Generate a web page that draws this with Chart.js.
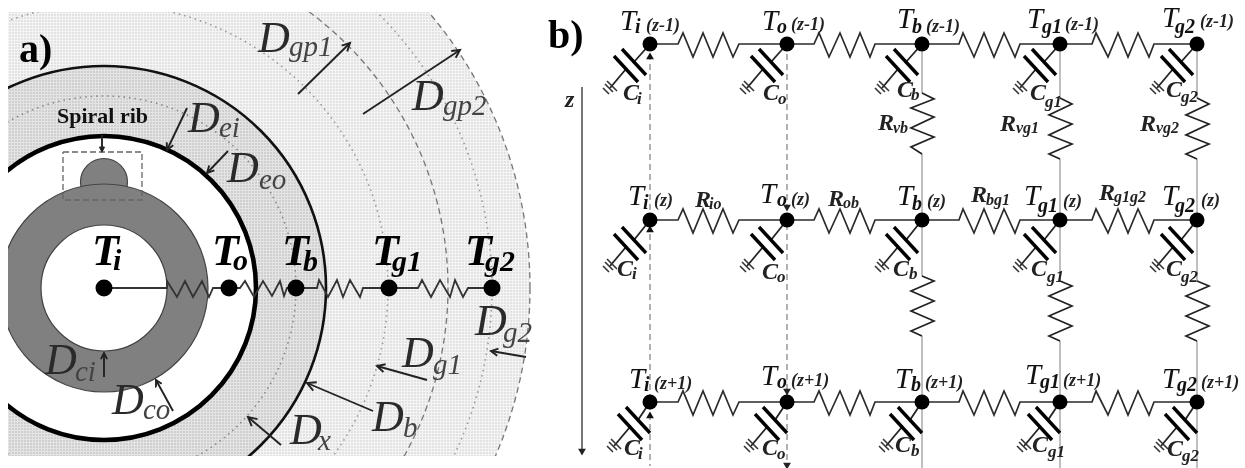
<!DOCTYPE html>
<html>
<head>
<meta charset="utf-8">
<style>html,body{margin:0;padding:0;background:#fff}canvas{display:block;filter:blur(0.5px)}</style>
<script src="https://cdn.jsdelivr.net/npm/chart.js@4"></script>
</head>
<body>
<canvas id="c" width="1245" height="468"></canvas>
<script>
// ---------- panel a) values ----------
const centre = [104, 288];
const radii = { gp2: 426, g2: 388, gp1: 344, g1: 284, b: 222, x: 192, eo: 152, co: 104, ci: 63 };
const ribDome = [104, 182, 23.5];
const nodesA = [[104, 288], [229, 288], [296, 288], [389, 288], [492, 288]];
const wireA = [[104, 288], [167, 288], [167, 281], [177, 297], [185, 281], [193, 297], [202, 281], [209, 297], [213, 288],
  [240, 288], [245, 281], [254, 297], [263, 281], [272, 296], [280, 281], [284, 296], [287, 288],
  [317, 288], [319, 280], [328, 297], [337, 280], [343, 297], [350, 280], [360, 297], [363, 288],
  [418, 288], [422, 280], [431, 297], [440, 280], [450, 297], [455, 280], [463, 297], [468, 288], [492, 288]];
const ribBox = [[63, 152], [142, 152], [142, 200], [63, 200], [63, 152]];
const arrowsA = [
  [102, 135, 102, 151, 5], [187, 108, 167, 150, 8], [228, 151, 207, 173, 8], [298, 94, 350, 43, 9],
  [363, 114, 460, 50, 9], [104, 377, 104, 353, 7], [173, 411, 156, 380, 7], [281, 445, 248, 417, 10],
  [373, 411, 307, 383, 10], [427, 380, 377, 366, 9], [526, 357, 491, 351, 8]
];
const dLabelsA = [['D', 258, 52], ['D', 412, 110], ['D', 188, 132], ['D', 227, 182], ['D', 45, 374], ['D', 112, 414],
  ['D', 402, 367], ['D', 475, 335], ['D', 372, 431], ['D', 290, 444]];
const dSubsA = [['gp1', 289, 56], ['gp2', 443, 115], ['ei', 219, 137], ['eo', 259, 189], ['ci', 75, 381], ['co', 143, 419],
  ['g1', 433, 374], ['g2', 503, 342], ['b', 403, 437], ['x', 318, 450]];
const tLabelsA = [['T', 92, 265], ['T', 212, 265], ['T', 282, 265], ['T', 372, 265], ['T', 465, 265]];
const tSubsA = [['i', 113, 270], ['o', 233, 270], ['b', 303, 271], ['g1', 392, 271], ['g2', 485, 271]];

// ---------- panel b) values ----------
const columns = [650, 787, 922, 1060, 1197];
const rows = [44, 220, 402];
const hZigX = [
  [678, 683, 693, 703, 713, 723, 733, 739],
  [814, 819, 829, 840, 850, 860, 870, 875],
  [959, 963, 974, 984, 994, 1004, 1015, 1020],
  [1092, 1096, 1108, 1118, 1128, 1138, 1149, 1154]
];
const hZigDy = [0, -11, 13, -11, 13, -11, 13, 0];
const vZigDx = [0, 12, -11, 12, -11, 12, -11, 0];
const vZigY = {
  '2,0': [93, 99, 108, 117, 128, 137, 147, 154],
  '3,0': [98, 104, 115, 124, 135, 144, 154, 159],
  '4,0': [98, 104, 115, 124, 135, 144, 154, 159],
  '2,1': [276, 281, 291, 301, 311, 321, 331, 336],
  '3,1': [281, 286, 296, 306, 316, 326, 336, 341],
  '4,1': [281, 286, 296, 306, 316, 326, 336, 341]
};
const capPlateA = [[-28, 5], [-4, 31]];
const capPlateB = [[-36, 12], [-12, 38]];
const capLeadA = [[0, 0], [-16, 18]];
const capLeadB = [[-24, 25], [-40, 44]];
const capGround = [[[-43, 37], [-33, 47]], [[-45, 40], [-37, 48]], [[-47, 44], [-41, 50]]];
const capShiftX = [0, 0, 4];
const capShiftY = [0, 2, 0];
const upMarks = [[650, 57], [650, 230], [650, 416]];
const downMarks = [[787, 207], [787, 391], [787, 465], [582, 451]];
const zAxisLine = [[582, 87], [582, 451]];

const tLabelsB = [
  ['T', 620, 30], ['T', 762, 30], ['T', 897, 28], ['T', 1027, 28], ['T', 1162, 27],
  ['T', 628, 205], ['T', 760, 203], ['T', 897, 205], ['T', 1024, 205], ['T', 1162, 205],
  ['T', 629, 388], ['T', 761, 385], ['T', 895, 388], ['T', 1025, 384], ['T', 1162, 388]
];
const tSubsB = [
  ['i', 635, 33], ['o', 777, 33], ['b', 912, 33], ['g1', 1042, 33], ['g2', 1175, 33],
  ['i', 643, 209], ['o', 777, 206], ['b', 912, 210], ['g1', 1038, 212], ['g2', 1175, 212],
  ['i', 644, 391], ['o', 777, 388], ['b', 911, 391], ['g1', 1040, 388], ['g2', 1177, 391]
];
const zTags = [
  ['(z-1)', 646, 31], ['(z-1)', 791, 30], ['(z-1)', 926, 32], ['(z-1)', 1065, 30], ['(z-1)', 1200, 27],
  ['(z)', 654, 206], ['(z)', 791, 205], ['(z)', 927, 207], ['(z)', 1063, 207], ['(z)', 1201, 206],
  ['(z+1)', 654, 389], ['(z+1)', 791, 386], ['(z+1)', 925, 388], ['(z+1)', 1063, 386], ['(z+1)', 1201, 388]
];
const cLabels = [
  ['C', 623, 100], ['C', 763, 100], ['C', 897, 97], ['C', 1030, 100], ['C', 1166, 97],
  ['C', 617, 276], ['C', 762, 279], ['C', 893, 276], ['C', 1031, 276], ['C', 1166, 276],
  ['C', 624, 455], ['C', 762, 455], ['C', 895, 452], ['C', 1032, 452], ['C', 1167, 456]
];
const cSubs = [
  ['i', 637, 104], ['o', 778, 104], ['b', 911, 100], ['g1', 1045, 107], ['g2', 1181, 102],
  ['i', 632, 279], ['o', 777, 282], ['b', 909, 279], ['g1', 1047, 282], ['g2', 1181, 282],
  ['i', 638, 459], ['o', 777, 459], ['b', 911, 456], ['g1', 1048, 457], ['g2', 1182, 461]
];
const rLabels = [['R', 695, 207], ['R', 828, 206], ['R', 971, 202], ['R', 1099, 200], ['R', 878, 130], ['R', 1000, 131], ['R', 1140, 131]];
const rSubs = [['io', 709, 209], ['ob', 843, 208], ['bg1', 986, 205], ['g1g2', 1114, 202], ['vb', 893, 133], ['vg1', 1016, 133], ['vg2', 1156, 133]];
const panelTags = [['a)', 19, 62], ['b)', 548, 48]];
const ribLabel = [['Spiral rib', 57, 123]];
const zLabel = [['z', 565, 107]];

// ---------- drawing helpers ----------
function stipple(base, dot) {
  const p = document.createElement('canvas');
  p.width = 3; p.height = 3;
  const g = p.getContext('2d');
  g.fillStyle = base; g.fillRect(0, 0, 3, 3);
  g.fillStyle = dot; g.fillRect(0, 0, 2, 1); g.fillRect(0, 2, 2, 1);
  return g.createPattern(p, 'repeat');
}
const panelClip = { left: -8, top: -12, right: -705, bottom: -12 };
const paint = [];
function disc(r, fill, stroke, width, dash, at) {
  const c = at || centre;
  paint.push({ type: 'bubble', data: [{ x: c[0], y: c[1], r }], backgroundColor: fill, borderColor: stroke,
    borderWidth: width, hoverBorderWidth: width, clip: panelClip, dash });
}
function path(pts, color, width, dash) {
  paint.push({ type: 'scatter', showLine: true, data: pts.map(p => ({ x: p[0], y: p[1] })), borderColor: color,
    borderWidth: width, pointRadius: 0, tension: 0, fill: false, clip: false, borderDash: dash || [] });
}
function dots(pts, style, radius, color, rotation) {
  paint.push({ type: 'scatter', showLine: false, data: pts.map(p => ({ x: p[0], y: p[1] })), pointStyle: style,
    pointRadius: radius, pointBackgroundColor: color, pointBorderColor: color, pointBorderWidth: 0,
    rotation: rotation || 0, clip: false });
}
function arrow(a) {
  const [x0, y0, x1, y1, h] = a;
  const len = Math.hypot(x1 - x0, y1 - y0), ux = (x1 - x0) / len, uy = (y1 - y0) / len;
  path([[x0, y0], [x1, y1]], '#222', 1.9);
  path([[x1 - h * (ux * .87 - uy * .45), y1 - h * (uy * .87 + ux * .45)], [x1, y1],
        [x1 - h * (ux * .87 + uy * .45), y1 - h * (uy * .87 - ux * .45)]], '#222', 1.9);
}

// ---------- panel a) marks, painted back to front ----------
disc(radii.gp2, stipple('#f4f4f4', '#e2e2e2'), '#777', 1.3, [6, 4]);
disc(radii.g2, 'rgba(0,0,0,0)', '#999', 1.6, [1.5, 4]);
disc(radii.gp1, 'rgba(0,0,0,0)', '#777', 1.3, [6, 4]);
disc(radii.g1, 'rgba(0,0,0,0)', '#999', 1.6, [1.5, 4]);
disc(radii.b, stipple('#e4e4e4', '#cfcfcf'), '#111', 2.6);
disc(radii.x, 'rgba(0,0,0,0)', '#888', 1.6, [1.5, 4]);
disc(radii.eo, '#fff', '#000', 4.6);
disc(ribDome[2], '#808080', '#444', 1.2, null, ribDome);
disc(radii.co, '#808080', '#444', 1.2);
disc(radii.ci, '#fff', '#444', 1.2);
path(ribBox, '#666', 1.3, [6, 3]);
path(wireA, '#333', 1.8);
dots(nodesA, 'circle', 8.5, '#000');
arrowsA.forEach(arrow);

// ---------- panel b) marks ----------
[0, 1].forEach(i => path([[columns[i], rows[0]], [columns[i], 466]], '#888', 1.3, [6, 4]));
[2, 3, 4].forEach(i => {
  const segs = [vZigY[i + ',0'], vZigY[i + ',1']];
  path([[columns[i], rows[0]], [columns[i], segs[0][0]]], '#aaa', 1.5);
  path([[columns[i], segs[0][7]], [columns[i], segs[1][0]]], '#aaa', 1.5);
  path([[columns[i], segs[1][7]], [columns[i], 468]], '#aaa', 1.5);
  segs.forEach(ys => path(ys.map((y, k) => [columns[i] + vZigDx[k], y]), '#222', 1.7));
});
path(zAxisLine, '#777', 2);
rows.forEach((y, r) => {
  hZigX.forEach((xs, s) => {
    const line = [[columns[s], y]].concat(xs.map((x, k) => [x, y + hZigDy[k]]));
    line.push([columns[s + 1], y]);
    path(line, '#2b2b2b', 1.7);
  });
  columns.forEach(x => {
    const off = p => [x + p[0] + capShiftX[r], y + p[1] + capShiftY[r]];
    path([[x, y], off(capLeadA[1])], '#222', 1.8);
    path([capLeadB[0], capLeadB[1]].map(off), '#222', 1.8);
    path(capPlateA.map(off), '#000', 3.4);
    path(capPlateB.map(off), '#000', 3.4);
    capGround.forEach(g => path(g.map(off), '#333', 1.6));
  });
});
dots(upMarks, 'triangle', 4.5, '#111');
dots(downMarks, 'triangle', 4.5, '#222', 180);
dots(columns.flatMap(x => rows.map(y => [x, y])), 'circle', 7.5, '#000');
paint.forEach((d, i) => { d.order = paint.length - i; });

// ---------- text ----------
const serif = '"Liberation Serif", "Times New Roman", serif';
const textGroups = [
  [dLabelsA, 'italic 44px ' + serif, '#2a2a2a'], [dSubsA, 'italic 29px ' + serif, '#444'],
  [tLabelsA, 'italic bold 44px ' + serif, '#000'], [tSubsA, 'italic bold 30px ' + serif, '#000'],
  [tLabelsB, 'italic 29px ' + serif, '#111'], [tSubsB, 'italic bold 20px ' + serif, '#111'],
  [zTags, 'italic bold 18px ' + serif, '#222'],
  [cLabels, 'italic bold 24px ' + serif, '#222'], [cSubs, 'italic bold 17px ' + serif, '#222'],
  [rLabels, 'italic bold 24px ' + serif, '#222'], [rSubs, 'italic bold 16px ' + serif, '#222'],
  [panelTags, 'bold 40px ' + serif, '#000'], [ribLabel, 'bold 22px ' + serif, '#111'],
  [zLabel, 'italic bold 24px ' + serif, '#222']
];
const diagramText = {
  id: 'diagramText',
  beforeDatasetDraw(chart, args) {
    const d = chart.data.datasets[args.index];
    if (d.dash) chart.ctx.setLineDash(d.dash);
  },
  afterDatasetDraw(chart) { chart.ctx.setLineDash([]); },
  afterDatasetsDraw(chart) {
    const ctx = chart.ctx, sx = chart.scales.x, sy = chart.scales.y;
    ctx.save();
    ctx.textAlign = 'left';
    ctx.textBaseline = 'alphabetic';
    textGroups.forEach(([items, font, color]) => {
      ctx.font = font; ctx.fillStyle = color;
      items.forEach(([t, x, y]) => ctx.fillText(t, sx.getPixelForValue(x), sy.getPixelForValue(y)));
    });
    ctx.restore();
  }
};

new Chart(document.getElementById('c'), {
  type: 'scatter',
  data: { datasets: paint },
  plugins: [diagramText],
  options: {
    responsive: false, animation: false, events: [],
    layout: { padding: 0, autoPadding: false },
    plugins: { legend: { display: false }, tooltip: { enabled: false } },
    scales: {
      x: { type: 'linear', min: 0, max: 1245, display: false },
      y: { type: 'linear', min: 0, max: 468, reverse: true, display: false }
    }
  }
});
</script>
</body>
</html>
